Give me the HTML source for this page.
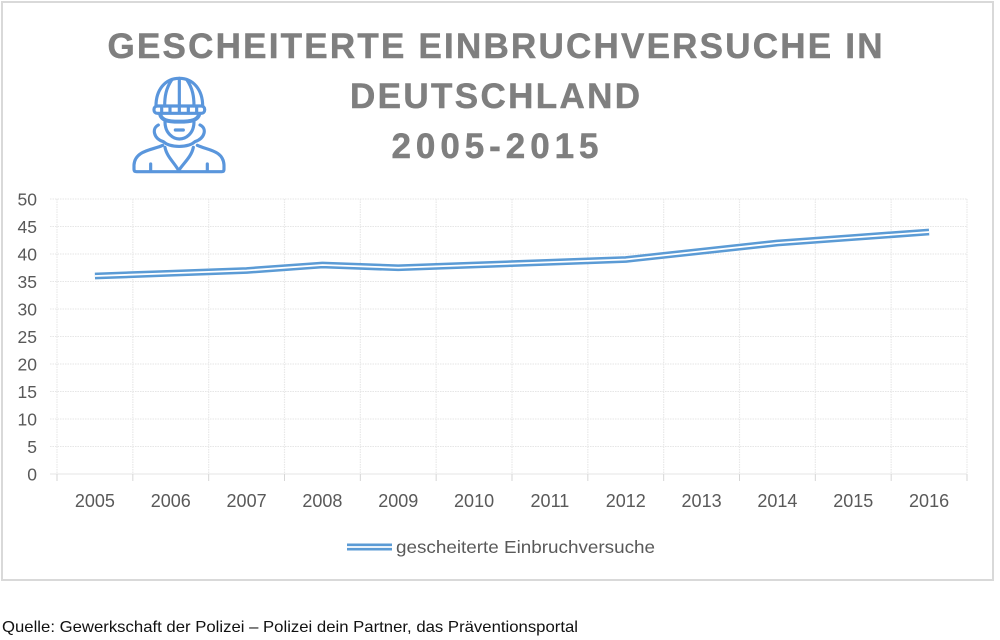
<!DOCTYPE html>
<html lang="de">
<head>
<meta charset="utf-8">
<title>Gescheiterte Einbruchversuche in Deutschland</title>
<style>
html,body{margin:0;padding:0;background:#fff;width:1000px;height:640px;overflow:hidden}
svg{display:block;font-family:"Liberation Sans",sans-serif}
</style>
</head>
<body>
<svg id="chart" xmlns="http://www.w3.org/2000/svg" width="1000" height="640" viewBox="0 0 1000 640">
  <rect x="2" y="2" width="991" height="578" fill="#fff" stroke="#d9d9d9" stroke-width="2"/>
  <g fill="#7f7f7f" stroke="#7f7f7f" stroke-width="0.5" font-weight="700" font-size="35" text-anchor="middle">
    <text x="495" y="58" textLength="775" lengthAdjust="spacing">GESCHEITERTE EINBRUCHVERSUCHE IN</text>
    <text x="495" y="108" textLength="290" lengthAdjust="spacing">DEUTSCHLAND</text>
    <text x="495" y="158" textLength="207" lengthAdjust="spacing">2005-2015</text>
  </g>
  <g transform="translate(120 70) scale(0.3333)" fill="none" stroke="#5a96dc" stroke-width="9.5" stroke-linecap="round" stroke-linejoin="round">
    <path d="M108 108C108 60 135 25 178 25C220 25 248 60 248 108"/>
    <path d="M178 25V108M155 30C138 55 134 80 134 108M201 30C218 55 222 80 222 108"/>
    <rect x="102" y="108" width="152" height="22" rx="10"/>
    <path d="M125 110V128M150 110V128M178 110V128M205 110V128M230 110V128"/>
    <path d="M120 132C124 150 140 155 178 155C216 155 234 150 238 132" stroke-width="12"/>
    <path d="M135 156C135 190 160 207 178 207C198 207 222 190 222 156"/>
    <path d="M166 180H190"/>
    <path d="M115 165C95 175 100 205 130 215C150 234 205 234 225 215C255 205 262 175 240 165"/>
    <path d="M128 226C100 240 45 240 42 285V298Q42 305 50 305H305Q312 305 312 298V285C310 240 260 240 232 226"/>
    <path d="M135 232C140 260 165 280 176 302C190 280 215 260 220 232M92 282V303M262 282V303"/>
  </g>
  <g id="grid"></g>
  <g id="y-axis"></g>
  <g id="x-axis"></g>
  <g id="series"></g>
  <g>
    <g>
      <line x1="347" x2="392" y1="547" y2="547" stroke="#5b9bd5" stroke-width="7"/>
      <line x1="346" x2="393" y1="547" y2="547" stroke="#fff" stroke-width="1.8"/>
    </g>
    <text x="396" y="553" font-size="17.5" fill="#595959" textLength="259" lengthAdjust="spacingAndGlyphs">gescheiterte Einbruchversuche</text>
  </g>
  <text x="2" y="632" font-size="16" fill="#111" textLength="576" lengthAdjust="spacingAndGlyphs">Quelle: Gewerkschaft der Polizei – Polizei dein Partner, das Präventionsportal</text>
</svg>
<script>
const categories = ['2005','2006','2007','2008','2009','2010','2011','2012','2013','2014','2015','2016'];
const attempts = [36, 36.5, 37, 38, 37.5, 38, 38.5, 39, 40.5, 42, 43, 44];
const yTicks = [0, 5, 10, 15, 20, 25, 30, 35, 40, 45, 50];

const NS = 'http://www.w3.org/2000/svg';
const left = 57, right = 967, top_ = 199, bottom = 474, yMax = 50;
const band = (right - left) / categories.length;
const xEdge = i => left + i * band;
const xPos = i => left + (i + 0.5) * band;
const yPos = v => bottom - (v / yMax) * (bottom - top_);

function make(tag, attrs, parent) {
  const el = document.createElementNS(NS, tag);
  for (const k in attrs) el.setAttribute(k, attrs[k]);
  parent.appendChild(el);
  return el;
}

const grid = document.getElementById('grid');
const yAxis = document.getElementById('y-axis');
const xAxis = document.getElementById('x-axis');
const series = document.getElementById('series');

yTicks.forEach(v => {
  const y = yPos(v);
  const gl = make('line', {x1: left - 7, x2: right, y1: y, y2: y, stroke: '#e6e6e6', 'stroke-width': 1, 'stroke-dasharray': v === 0 ? 'none' : '1.5 1'}, grid);
  
  
  const t = make('text', {x: 37, y: y + 6.5, 'text-anchor': 'end', 'font-size': 17.5, fill: '#595959'}, yAxis);
  t.textContent = String(v);
  
  
});

for (let i = 0; i <= categories.length; i++) {
  const x = xEdge(i);
  const gl = make('line', {x1: x, x2: x, y1: top_, y2: bottom, stroke: '#e8e8e8', 'stroke-width': 1.2, 'stroke-dasharray': '1.5 1'}, grid);
  
  
  const tick = make('line', {x1: x, x2: x, y1: bottom, y2: bottom + 7, stroke: '#d6d6d6', 'stroke-width': 1}, xAxis);
  
  
}

categories.forEach((c, i) => {
  const t = make('text', {x: xPos(i), y: 507, 'text-anchor': 'middle', 'font-size': 18, fill: '#595959'}, xAxis);
  t.textContent = c;
  
  
});

const pts = attempts.map((v, i) => xPos(i).toFixed(2) + ',' + yPos(v).toFixed(2)).join(' ');
const outer = make('polyline', {points: pts, fill: 'none', stroke: '#5b9bd5', 'stroke-width': 6.8, 'stroke-linejoin': 'round'}, series);


const inner = make('polyline', {points: pts, fill: 'none', stroke: '#fff', 'stroke-width': 1.8, 'stroke-linejoin': 'round'}, series);


</script>
</body>
</html>
